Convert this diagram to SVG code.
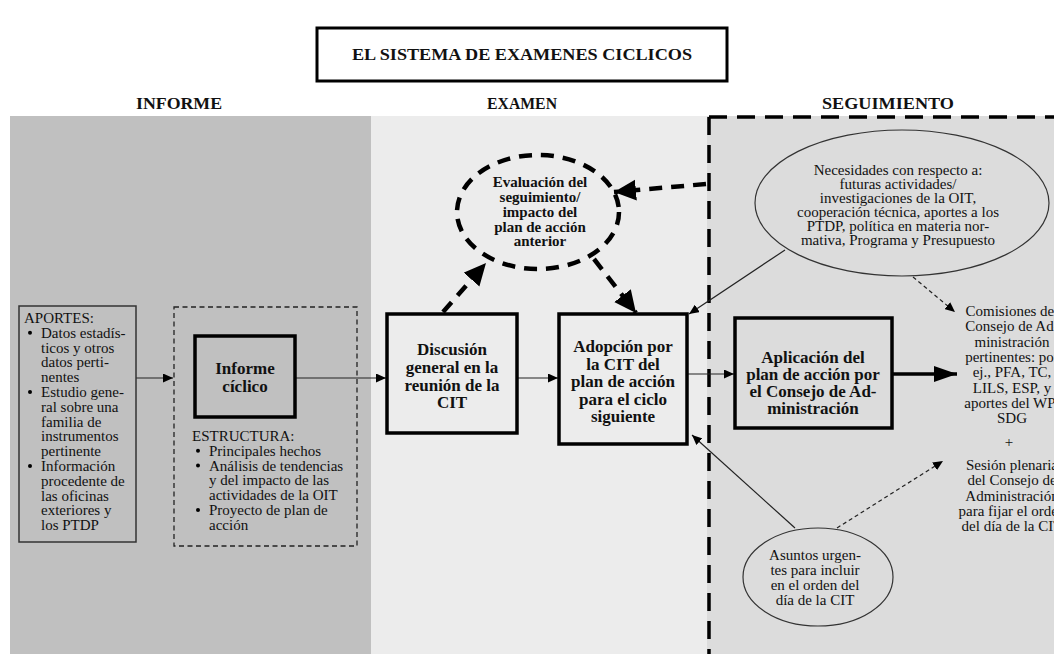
<svg xmlns="http://www.w3.org/2000/svg" width="1054" height="654" viewBox="0 0 1054 654">
<style>
text{font-family:"Liberation Serif","Times New Roman",serif;fill:#111}
.t{font-size:15px}
.c{text-anchor:middle}
.b{font-weight:bold;font-size:17px;text-anchor:middle}
.be{font-weight:bold;font-size:15px;text-anchor:middle}
.h{font-weight:bold;font-size:16px;text-anchor:middle}
.thin{stroke:#222;stroke-width:1.2;fill:none}
.dot{stroke:#222;stroke-width:1.2;fill:none;stroke-dasharray:4 3}
.bigd{stroke:#000;stroke-width:4.5;fill:none;stroke-dasharray:13 9}
.box{stroke:#000;stroke-width:3.5}
</style>
<defs>
<marker id="aS" markerUnits="userSpaceOnUse" markerWidth="11" markerHeight="9" refX="10" refY="4.5" orient="auto"><path d="M0,0 L10,4.5 L0,9 z" fill="#000"/></marker>
<marker id="aB" markerUnits="userSpaceOnUse" markerWidth="23" markerHeight="22" refX="22" refY="10.5" orient="auto"><path d="M0,0 L22,10.5 L0,21 z" fill="#000"/></marker>
<marker id="aT" markerUnits="userSpaceOnUse" markerWidth="24" markerHeight="18" refX="23" refY="8" orient="auto"><path d="M0,0 L23,8 L0,16 z" fill="#000"/></marker>
</defs>

<!-- panels -->
<rect x="10" y="116" width="361" height="538" fill="#c0c0c0"/>
<rect x="371" y="116" width="336" height="538" fill="#ececec"/>
<rect x="707" y="116" width="347" height="538" fill="#dcdcdc"/>
<path d="M709,117 H1054 M709,117 V654" stroke="#000" stroke-width="3.5" stroke-dasharray="18 10" fill="none"/>

<!-- title -->
<g id="title">
<rect x="317" y="28" width="410" height="53" fill="#fff" stroke="#000" stroke-width="3"/>
<text class="h" x="522" y="60" textLength="340" lengthAdjust="spacingAndGlyphs">EL SISTEMA DE EXAMENES CICLICOS</text>
</g>
<g id="headers">
<text class="h" x="179" y="109" textLength="86" lengthAdjust="spacingAndGlyphs">INFORME</text>
<text class="h" x="522" y="109" textLength="70" lengthAdjust="spacingAndGlyphs">EXAMEN</text>
<text class="h" x="888" y="109" textLength="132" lengthAdjust="spacingAndGlyphs">SEGUIMIENTO</text>
</g>

<!-- connectors -->
<g id="connectors">
<line class="thin" x1="136" y1="378" x2="173" y2="378" marker-end="url(#aS)"/>
<line class="thin" x1="295" y1="378" x2="386" y2="378" marker-end="url(#aS)"/>
<line class="thin" x1="517" y1="378" x2="558" y2="378" marker-end="url(#aS)"/>
<line class="thin" x1="687" y1="374" x2="734" y2="374" marker-end="url(#aS)"/>
<line x1="892" y1="374" x2="957" y2="374" stroke="#000" stroke-width="3.5" marker-end="url(#aT)"/>
<line class="bigd" x1="443" y1="312" x2="486" y2="263" marker-end="url(#aB)"/>
<line class="bigd" x1="594" y1="259" x2="636" y2="313" marker-end="url(#aB)"/>
<line class="bigd" x1="706" y1="184" x2="614" y2="192" marker-end="url(#aB)"/>
<line class="thin" x1="785" y1="250" x2="689" y2="314" marker-end="url(#aS)"/>
<line class="thin" x1="795" y1="528" x2="692" y2="435" marker-end="url(#aS)"/>
<line class="dot" x1="913" y1="277" x2="955" y2="312" marker-end="url(#aS)"/>
<line class="dot" x1="837" y1="528" x2="943" y2="461" marker-end="url(#aS)"/>
</g>

<!-- APORTES -->
<g id="aportes">
<rect x="19" y="306" width="117" height="236" fill="#c0c0c0" stroke="#333" stroke-width="1.5"/>
<g class="t">
<text x="24" y="323">APORTES:</text>
<circle cx="30" cy="332.8" r="2"/>
<text x="41" y="337.8">Datos estadís-</text>
<text x="41" y="352.6">ticos y otros</text>
<text x="41" y="367.4">datos perti-</text>
<text x="41" y="382.2">nentes</text>
<circle cx="30" cy="392" r="2"/>
<text x="41" y="397">Estudio gene-</text>
<text x="41" y="411.8">ral sobre una</text>
<text x="41" y="426.6">familia de</text>
<text x="41" y="441.4">instrumentos</text>
<text x="41" y="456.2">pertinente</text>
<circle cx="30" cy="466" r="2"/>
<text x="41" y="471">Información</text>
<text x="41" y="485.8">procedente de</text>
<text x="41" y="500.6">las oficinas</text>
<text x="41" y="515.4">exteriores y</text>
<text x="41" y="530.2">los PTDP</text>
</g>
</g>

<!-- Informe ciclico -->
<g id="informe">
<rect x="174" y="307" width="183" height="239" fill="none" stroke="#222" stroke-width="1.3" stroke-dasharray="5 3.5"/>
<rect x="195" y="336" width="100" height="81" fill="#c0c0c0" class="box"/>
<text class="b" x="245" y="374">Informe</text>
<text class="b" x="245" y="392">cíclico</text>
<g class="t">
<text x="192" y="441">ESTRUCTURA:</text>
<circle cx="198" cy="450.8" r="2"/>
<text x="209" y="455.8">Principales hechos</text>
<circle cx="198" cy="465.6" r="2"/>
<text x="209" y="470.6">Análisis de tendencias</text>
<text x="209" y="485.4">y del impacto de las</text>
<text x="209" y="500.2">actividades de la OIT</text>
<circle cx="198" cy="510" r="2"/>
<text x="209" y="515">Proyecto de plan de</text>
<text x="209" y="529.8">acción</text>
</g>
</g>

<!-- Discusion -->
<g id="discusion">
<rect x="387" y="314" width="130" height="119" fill="#ececec" class="box"/>
<text class="b" x="452" y="355">Discusión</text>
<text class="b" x="452" y="373">general en la</text>
<text class="b" x="452" y="391">reunión de la</text>
<text class="b" x="452" y="408">CIT</text>
</g>

<!-- Adopcion -->
<g id="adopcion">
<rect x="559" y="314" width="128" height="130" fill="#ececec" class="box"/>
<text class="b" x="623" y="352">Adopción por</text>
<text class="b" x="623" y="369.5">la CIT del</text>
<text class="b" x="623" y="387">plan de acción</text>
<text class="b" x="623" y="404.5">para el ciclo</text>
<text class="b" x="623" y="422">siguiente</text>
</g>

<!-- Evaluacion ellipse -->
<g id="evaluacion">
<ellipse cx="538" cy="212" rx="81" ry="57" class="bigd"/>
<text class="be" x="540" y="187">Evaluación del</text>
<text class="be" x="540" y="202">seguimiento/</text>
<text class="be" x="540" y="217">impacto del</text>
<text class="be" x="540" y="232">plan de acción</text>
<text class="be" x="540" y="246">anterior</text>
</g>

<!-- Aplicacion -->
<g id="aplicacion">
<rect x="735" y="318" width="157" height="110" fill="#dcdcdc" class="box"/>
<text class="b" x="813" y="363">Aplicación del</text>
<text class="b" x="813" y="380">plan de acción por</text>
<text class="b" x="813" y="397">el Consejo de Ad-</text>
<text class="b" x="813" y="414">ministración</text>
</g>

<!-- Necesidades -->
<g id="necesidades">
<ellipse cx="902" cy="203" rx="147" ry="73" fill="none" stroke="#333" stroke-width="1.2"/>
<g class="t c">
<text x="898" y="175">Necesidades con respecto a:</text>
<text x="898" y="189">futuras actividades/</text>
<text x="898" y="203">investigaciones de la OIT,</text>
<text x="898" y="217">cooperación técnica, aportes a los</text>
<text x="898" y="231">PTDP, política en materia nor-</text>
<text x="898" y="245">mativa, Programa y Presupuesto</text>
</g>
</g>

<!-- Comisiones / Sesion -->
<g id="comisiones">
<g class="t c">
<text x="1012" y="316">Comisiones del</text>
<text x="1012" y="331">Consejo de Ad-</text>
<text x="1012" y="346.5">ministración</text>
<text x="1012" y="362">pertinentes: por</text>
<text x="1012" y="377">ej., PFA, TC,</text>
<text x="1012" y="393">LILS, ESP, y</text>
<text x="1012" y="408">aportes del WP/</text>
<text x="1012" y="423">SDG</text>
<text x="1009" y="447">+</text>
</g>
</g>
<g id="sesion">
<g class="t c">
<text x="1012" y="470">Sesión plenaria</text>
<text x="1012" y="485">del Consejo de</text>
<text x="1012" y="501">Administración</text>
<text x="1012" y="516">para fijar el orden</text>
<text x="1012" y="531">del día de la CIT</text>
</g>
</g>

<!-- Asuntos -->
<g id="asuntos">
<ellipse cx="818" cy="577" rx="75" ry="49" fill="none" stroke="#333" stroke-width="1.2"/>
<g class="t c">
<text x="815" y="560">Asuntos urgen-</text>
<text x="815" y="575">tes para incluir</text>
<text x="815" y="590">en el orden del</text>
<text x="815" y="605">día de la CIT</text>
</g>
</g>
</svg>
